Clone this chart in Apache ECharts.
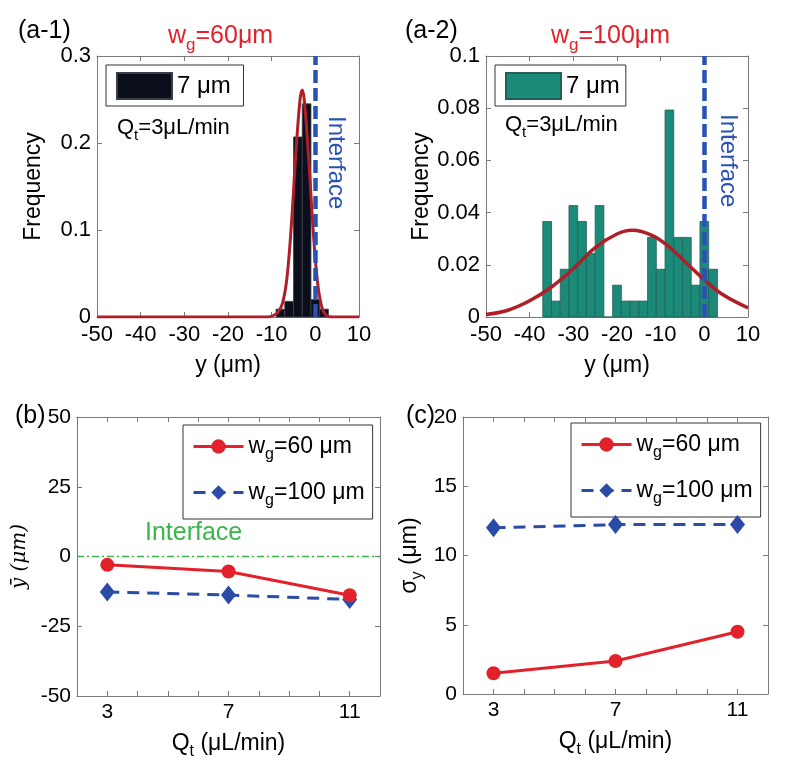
<!DOCTYPE html>
<html>
<head>
<meta charset="utf-8">
<script src="https://cdn.jsdelivr.net/npm/echarts@6/dist/echarts.min.js"></script>
<style>html,body{margin:0;padding:0;background:#fff;}#chart{width:800px;height:768px;}</style>
</head>
<body>
<div id="chart"></div>
<script>
// ---------- DATA ----------
// (a-1) histogram, w_g = 60 um, bins of 2 um (centres)
const binWidth = 2;
const binCentersA1 = [-8, -6, -4, -2, 0, 2];
const freqA1 = [0.009, 0.018, 0.207, 0.245, 0.02, 0.009];
// (a-1) fitted curve
const fitXA1 = [-50, -11, -9.5, -8.5, -7.5, -6.5, -5.5, -4.5, -3.5, -3, -2.5, -1.5, -0.5, 0.5, 1.5, 2.5, 4, 10];
const fitYA1 = [0, 0, 0.002, 0.006, 0.016, 0.045, 0.105, 0.185, 0.25, 0.261, 0.248, 0.18, 0.1, 0.04, 0.011, 0.002, 0, 0];
// (a-2) histogram, w_g = 100 um
const binCentersA2 = [-36, -34, -32, -30, -28, -26, -24, -22, -20, -18, -16, -14, -12, -10, -8, -6, -4, -2, 0, 2];
const freqA2 = [0.0366, 0.0061, 0.0183, 0.0427, 0.0366, 0.0244, 0.0427, 0, 0.0122, 0.0061, 0.0061, 0.0061, 0.0305, 0.0183, 0.0793, 0.0305, 0.0305, 0.0122, 0.0366, 0.0183];
const fitXA2 = [-50, -45, -40, -35, -30, -25, -20, -16.5, -12, -8, -4, 0, 4, 10];
const fitYA2 = [0.001, 0.0026, 0.0062, 0.0115, 0.0185, 0.0266, 0.0318, 0.0332, 0.0313, 0.0268, 0.0205, 0.0142, 0.0088, 0.0035];
// (b) mean position and (c) std deviation vs flow rate
const qt = [3, 7, 11];
const qtTickLabels = [3, 7, 11];
const meanW60 = [-3.0, -5.4, -13.9];
const meanW100 = [-12.7, -13.8, -15.4];
const sigmaW60 = [1.5, 2.38, 4.49];
const sigmaW100 = [12.0, 12.23, 12.23];
const interfaceY = 0;

// ---------- STYLE ----------
const FONT = 'Liberation Sans';
const AX = '#7a7a7a';
const RED = '#e3212b';
const BLUE = '#2b4ca6';
const DARKRED = '#b01f28';
const TEAL = '#1c8a79';
const IFBLUE = '#2a52b0';
const GREEN = '#3ab54a';
function subRich(fs) {
  return { sub: { fontSize: fs, fontFamily: FONT, verticalAlign: 'bottom', lineHeight: Math.round(fs * 2.05) } };
}

function axesFor(gi, xr, yr, opts) {
  const tfs = opts.tickFS;
  const nfs = opts.nameFS;
  const common = {
    gridIndex: gi,
    axisLine: { show: true, onZero: false, lineStyle: { color: AX, width: 1 } },
    axisTick: { show: true, inside: true, length: 5, lineStyle: { color: AX } },
    splitLine: { show: false },
  };
  const xb = Object.assign({}, common, {
    type: 'value', position: 'bottom', min: xr[0], max: xr[1], interval: xr[2],
    axisLabel: { show: true, color: '#000', fontSize: tfs, fontFamily: FONT, margin: opts.xMargin || 7,
      formatter: opts.xFmt || (v => String(v)) },
    name: opts.xName, nameLocation: 'middle', nameGap: opts.xNameGap,
    nameTextStyle: { color: '#000', fontSize: nfs, fontFamily: FONT, rich: subRich(16) },
  });
  const xt = Object.assign({}, common, {
    type: 'value', position: 'top', min: xr[0], max: xr[1], interval: xr[2], axisLabel: { show: false },
  });
  const yl = Object.assign({}, common, {
    type: 'value', position: 'left', min: yr[0], max: yr[1], interval: yr[2],
    axisLabel: { show: true, color: '#000', fontSize: tfs, fontFamily: FONT, margin: 6 },
    name: opts.yName, nameLocation: 'middle', nameGap: opts.yNameGap,
    nameTextStyle: Object.assign({ color: '#000', fontSize: nfs, fontFamily: FONT, rich: subRich(16) }, opts.yNameStyle || {}),
  });
  const yr2 = Object.assign({}, common, {
    type: 'value', position: 'right', min: yr[0], max: yr[1], interval: yr[2], axisLabel: { show: false },
  });
  return { x: [xb, xt], y: [yl, yr2] };
}

const A1 = axesFor(0, [-50, 10, 10], [0, 0.3, 0.1], { tickFS: 22, nameFS: 23, xName: 'y (μm)', xNameGap: 37, yName: 'Frequency', yNameGap: 52 });
const A2 = axesFor(1, [-50, 10, 10], [0, 0.1, 0.02], { tickFS: 22, nameFS: 23, xName: 'y (μm)', xNameGap: 37, yName: 'Frequency', yNameGap: 52 });
const qtFmt = v => (qtTickLabels.indexOf(v) >= 0 ? String(v) : '');
const B = axesFor(2, [2, 12, 1], [-50, 50, 25], { tickFS: 21, nameFS: 23, xMargin: 6, xFmt: qtFmt, xName: 'Q{sub|t} (μL/min)', xNameGap: 31, yName: 'ȳ (μm)', yNameGap: 47,
  yNameStyle: { fontFamily: 'DejaVu Serif', fontStyle: 'italic', fontSize: 20 } });
const C = axesFor(3, [2, 12, 1], [0, 20, 5], { tickFS: 21, nameFS: 23, xMargin: 6, xFmt: qtFmt, xName: 'Q{sub|t} (μL/min)', xNameGap: 31, yName: 'σ{sub|y} (μm)', yNameGap: 37 });

function histRender(params, api) {
  const c = api.value(0), v = api.value(1);
  const p0 = api.coord([c - binWidth / 2, v]);
  const p1 = api.coord([c + binWidth / 2, 0]);
  return {
    type: 'rect',
    shape: { x: p0[0], y: p0[1], width: p1[0] - p0[0], height: p1[1] - p0[1] },
    style: api.style(),
  };
}

const vMark = {
  silent: true, symbol: ['none', 'none'], label: { show: false },
  lineStyle: { color: IFBLUE, width: 4.5, type: [13, 5] },
  data: [{ xAxis: interfaceY }],
};

const titleStyle = { fontSize: 25, fontWeight: 'normal', color: '#000', fontFamily: FONT };
const redTitle = { fontSize: 25, fontWeight: 'normal', color: RED, fontFamily: FONT,
  rich: { sub: { fontSize: 17, color: RED, fontFamily: FONT, verticalAlign: 'bottom', lineHeight: 35 } } };
const legRich = { sub: { fontSize: 16, fontFamily: FONT, verticalAlign: 'bottom', lineHeight: 33 } };

const option = {
  backgroundColor: '#fff',
  animation: false,
  textStyle: { fontFamily: FONT },
  grid: [
    { left: 97, top: 56, width: 262, height: 261 },
    { left: 486, top: 56, width: 262, height: 261 },
    { left: 77, top: 417, width: 303, height: 279 },
    { left: 463, top: 417, width: 305, height: 277 },
  ],
  xAxis: [].concat(A1.x, A2.x, B.x, C.x),
  yAxis: [].concat(A1.y, A2.y, B.y, C.y),
  title: [
    { text: '(a-1)', left: 13, top: 14, textStyle: titleStyle },
    { text: 'w{sub|g}=60μm', left: 163, top: 14, textStyle: redTitle },
    { text: '(a-2)', left: 400, top: 14, textStyle: titleStyle },
    { text: 'w{sub|g}=100μm', left: 546, top: 14, textStyle: redTitle },
    { text: '(b)', left: 10, top: 399, textStyle: titleStyle },
    { text: '(c)', left: 401, top: 399, textStyle: titleStyle },
  ],
  legend: [
    { data: ['7 μm '], left: 106, top: 65, orient: 'vertical', icon: 'rect', itemWidth: 55, itemHeight: 26, itemGap: 0,
      padding: [7, 6, 6, 10], borderColor: '#333', borderWidth: 1, backgroundColor: '#fff',
      textStyle: { fontSize: 24, fontFamily: FONT, color: '#000' } },
    { data: ['7 μm'], left: 495, top: 65, orient: 'vertical', icon: 'rect', itemWidth: 55, itemHeight: 26, itemGap: 0,
      padding: [7, 6, 6, 10], borderColor: '#333', borderWidth: 1, backgroundColor: '#fff',
      textStyle: { fontSize: 24, fontFamily: FONT, color: '#000' } },
    { data: ['b60', 'b100'], left: 183, top: 425, orient: 'vertical', itemWidth: 50, itemHeight: 18, itemGap: 18,
      padding: [10, 8, 10, 9], borderColor: '#333', borderWidth: 1, backgroundColor: '#fff',
      lineStyle: { width: 3 },
      formatter: n => (n === 'b60' ? 'w{sub|g}=60 μm' : 'w{sub|g}=100 μm'),
      textStyle: { fontSize: 23, fontFamily: FONT, color: '#000', rich: legRich } },
    { data: ['c60', 'c100'], left: 571, top: 423, orient: 'vertical', itemWidth: 50, itemHeight: 18, itemGap: 18,
      padding: [10, 8, 10, 9], borderColor: '#333', borderWidth: 1, backgroundColor: '#fff',
      lineStyle: { width: 3 },
      formatter: n => (n === 'c60' ? 'w{sub|g}=60 μm' : 'w{sub|g}=100 μm'),
      textStyle: { fontSize: 23, fontFamily: FONT, color: '#000', rich: legRich } },
  ],
  graphic: [
    { type: 'text', left: 117, top: 117, z: 10, style: { text: 'Q{sub|t}=3μL/min', fontSize: 22, fontFamily: FONT, fill: '#000',
      rich: { sub: { fontSize: 15, fontFamily: FONT, verticalAlign: 'bottom', lineHeight: 31 } } } },
    { type: 'text', left: 505, top: 114, z: 10, style: { text: 'Q{sub|t}=3μL/min', fontSize: 22, fontFamily: FONT, fill: '#000',
      rich: { sub: { fontSize: 15, fontFamily: FONT, verticalAlign: 'bottom', lineHeight: 31 } } } },
    { type: 'text', x: 348, y: 116, rotation: -Math.PI / 2, z: 10, style: { text: 'Interface', fontSize: 24, fontFamily: FONT, fill: IFBLUE } },
    { type: 'text', x: 740, y: 114, rotation: -Math.PI / 2, z: 10, style: { text: 'Interface', fontSize: 24, fontFamily: FONT, fill: IFBLUE } },
    { type: 'text', left: 145, top: 521, z: 10, style: { text: 'Interface', fontSize: 25, fontFamily: FONT, fill: GREEN } },
  ],
  series: [
    { name: '7 μm ', type: 'custom', xAxisIndex: 0, yAxisIndex: 0, renderItem: histRender, encode: { x: 0, y: 1 },
      itemStyle: { color: '#0b0e1b', borderColor: '#3a3d48', borderWidth: 0.8 }, z: 2,
      data: binCentersA1.map((c, i) => [c, freqA1[i]]), markLine: vMark },
    { name: 'fitA1', type: 'line', xAxisIndex: 0, yAxisIndex: 0, smooth: 0.4, showSymbol: false, symbol: 'none', z: 4,
      lineStyle: { color: DARKRED, width: 3 }, data: fitXA1.map((x, i) => [x, fitYA1[i]]) },
    { name: '7 μm', type: 'custom', xAxisIndex: 2, yAxisIndex: 2, renderItem: histRender, encode: { x: 0, y: 1 },
      itemStyle: { color: TEAL, borderColor: '#235f55', borderWidth: 0.8 }, z: 2,
      data: binCentersA2.map((c, i) => [c, freqA2[i]]), markLine: vMark },
    { name: 'fitA2', type: 'line', xAxisIndex: 2, yAxisIndex: 2, smooth: 0.4, showSymbol: false, symbol: 'none', z: 4,
      lineStyle: { color: DARKRED, width: 3.5 }, data: fitXA2.map((x, i) => [x, fitYA2[i]]) },
    { name: 'b60', type: 'line', xAxisIndex: 4, yAxisIndex: 4, symbol: 'circle', symbolSize: 14, z: 5,
      lineStyle: { color: RED, width: 3 }, itemStyle: { color: RED },
      data: qt.map((q, i) => [q, meanW60[i]]),
      markLine: { silent: true, symbol: ['none', 'none'], label: { show: false },
        lineStyle: { color: GREEN, width: 1.3, type: [7, 3, 2, 3] }, data: [{ yAxis: interfaceY }] } },
    { name: 'b100', type: 'line', xAxisIndex: 4, yAxisIndex: 4, symbol: 'diamond', symbolSize: [15, 19], z: 4,
      lineStyle: { color: BLUE, width: 3, type: [12, 8] }, itemStyle: { color: BLUE },
      data: qt.map((q, i) => [q, meanW100[i]]) },
    { name: 'c60', type: 'line', xAxisIndex: 6, yAxisIndex: 6, symbol: 'circle', symbolSize: 14, z: 5,
      lineStyle: { color: RED, width: 3 }, itemStyle: { color: RED },
      data: qt.map((q, i) => [q, sigmaW60[i]]) },
    { name: 'c100', type: 'line', xAxisIndex: 6, yAxisIndex: 6, symbol: 'diamond', symbolSize: [15, 19], z: 4,
      lineStyle: { color: BLUE, width: 3, type: [12, 8] }, itemStyle: { color: BLUE },
      data: qt.map((q, i) => [q, sigmaW100[i]]) },
  ],
};

const chart = echarts.init(document.getElementById('chart'), null, { renderer: 'canvas' });
chart.setOption(option);
</script>
</body>
</html>
